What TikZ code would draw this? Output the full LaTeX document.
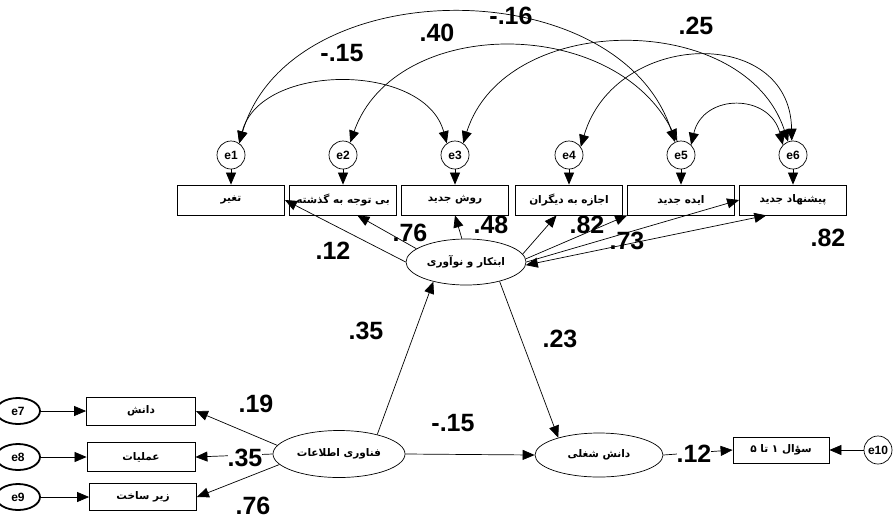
\documentclass[tikz,border=0pt]{standalone}
\usepackage{fontspec}
\setmainfont{Liberation Sans}
\newfontfamily\pfont[Script=Arabic]{DejaVu Sans}
\TeXXeTstate=1
\usetikzlibrary{arrows.meta,shapes.geometric}
\newcommand\pf{\pfont\bfseries\fontsize{10.5}{10.5}\selectfont}
\begin{document}
\begin{tikzpicture}[x=1pt,y=-1pt,
  box/.style={draw, line width=0.8pt, fill=white, minimum width=107pt, minimum height=30pt, inner sep=0pt, font=\pf},
  err/.style={circle, draw, line width=0.7pt, fill=white, minimum size=28pt, inner sep=0pt, font=\bfseries\fontsize{12}{12}\selectfont},
  erl/.style={ellipse, draw, line width=1.8pt, fill=white, minimum width=44pt, minimum height=26pt, inner sep=0pt, font=\bfseries\fontsize{12}{12}\selectfont},
  lat/.style={ellipse, draw, line width=0.7pt, fill=white, inner sep=0pt},
  lab/.style={font=\bfseries\fontsize{25}{25}\selectfont, inner sep=0pt},
  arr/.style={-{Triangle[length=12pt,width=10pt]}, line width=0.7pt},
  cov/.style={{Triangle[length=12pt,width=10pt]}-{Triangle[length=12pt,width=10pt]}, line width=0.7pt},
]
\useasboundingbox (0,0) rectangle (893,520);
% top indicators
\node[box] (b1) at (231,200) {\beginR تغیر\endR};
\node[box] (b2) at (343,200) {\beginR بی توجه به گذشته\endR};
\node[box] (b3) at (455,200) {\beginR روش جدید\endR};
\node[box] (b4) at (569,200) {\beginR اجازه به دیگران\endR};
\node[box] (b5) at (681,200) {\beginR ایده جدید\endR};
\node[box] (b6) at (793,200) {\beginR پیشنهاد جدید\endR};
% error terms top
\node[err] (e1) at (231,155) {e1};
\node[err] (e2) at (343,155) {e2};
\node[err] (e3) at (455,155) {e3};
\node[err] (e4) at (569,155) {e4};
\node[err] (e5) at (681,155) {e5};
\node[err] (e6) at (793,155) {e6};
\foreach \i in {1,...,6} {\draw[arr] (e\i) -- (b\i);}
% latent variables
\node[lat, minimum width=120pt, minimum height=46pt] (inn) at (466,262) {};
\node[font=\pf, inner sep=0pt] (inntx) at (inn.center) {\beginR ابتکار و نوآوری\endR};
\node[lat, minimum width=132pt, minimum height=47pt] (it) at (339,454) {};
\node[font=\pf, inner sep=0pt] (ittx) at (it.center) {\beginR فناوری اطلاعات\endR};
\node[lat, minimum width=128pt, minimum height=44pt] (dj) at (599,455) {};
\node[font=\pf, inner sep=0pt] (djtx) at (dj.center) {\beginR دانش شغلی\endR};
% left indicators
\node[box, minimum width=109pt, minimum height=28pt] (d1) at (141,411) {\beginR دانش\endR};
\node[box, minimum width=108pt, minimum height=29pt] (d2) at (141,457) {\beginR عملیات\endR};
\node[box, minimum width=107pt, minimum height=27pt] (d3) at (143,497) {\beginR زیر ساخت\endR};
\node[erl] (e7) at (18,411) {e7};
\node[erl] (e8) at (18,457) {e8};
\node[erl] (e9) at (18,497) {e9};
\draw[arr] (e7) -- (d1);
\draw[arr] (e8) -- (d2);
\draw[arr] (e9) -- (d3);
% right indicator
\node[box, minimum width=96pt, minimum height=26pt] (q) at (781,450) {\beginR سؤال ۱ تا ۵\endR};
\node[err] (e10) at (878,450) {e10};
\draw[arr] (e10) -- (q);
\draw[arr] (dj.east) -- (q.west);
% covariances
\draw[cov] (e1.55) .. controls (290,-30) and (620,-30) .. (e5.115);
\draw[cov] (e1.55) .. controls (260,62) and (425,62) .. (e3.125);
\draw[cov] (e2.60) .. controls (395,15) and (615,15) .. (e5.105);
\draw[cov] (e3.55) .. controls (505,10) and (745,10) .. (e6.110);
\draw[cov] (e4.35) .. controls (615,30) and (790,25) .. (e6.95);
\draw[cov] (e5.45) .. controls (703,93) and (770,93) .. (e6.135);
% structural paths
\draw[arr] (it.27) -- (inn.-149);
\draw[arr] (inn.-30) -- (dj.157);
\draw[arr] (it.east) -- (dj.west);
\draw[arr] (it.172) -- (d1.east);
\draw[arr] (it.180) -- (d2.east);
\draw[arr] (it.190) -- (d3.east);
% loadings of innovation
\draw[arr] (inn.180) -- (b1.east);
\draw[arr] (inn.165) -- (b2.-47);
\draw[arr] (inn.100) -- (b3.south);
\draw[arr] (inn.8) -- (b4.-129);
\draw[arr] (inn.3) -- (b5.south west);
\draw[arr] (inn.0) -- (b6.west);
\draw[cov] (inn.-3) -- (b6.-150);
% labels
\node[lab] (l1) at (342,53) {\beginL-.15\endL};
\node[lab] (l2) at (437,33) {.40};
\node[lab] (l3) at (511,16) {\beginL-.16\endL};
\node[lab] (l4) at (696,26) {.25};
\node[lab] (l5) at (333,251) {.12};
\node[lab] (l6) at (410,233) {.76};
\node[lab] (l7) at (491,225) {.48};
\node[lab] (l8) at (587,225) {.82};
\node[lab] (l9) at (627,241) {.73};
\node[lab] (l10) at (828,238) {.82};
\node[lab] (l11) at (366,331) {.35};
\node[lab] (l12) at (560,339) {.23};
\node[lab] (l13) at (453,423) {\beginL-.15\endL};
\node[lab] (l14) at (256,404) {.19};
\node[lab, fill=white] (l15) at (245,458) {.35};
\node[lab] (l16) at (253,506) {.76};
\node[lab, fill=white] (l17) at (694,454) {.12};
\end{tikzpicture}
\end{document}
